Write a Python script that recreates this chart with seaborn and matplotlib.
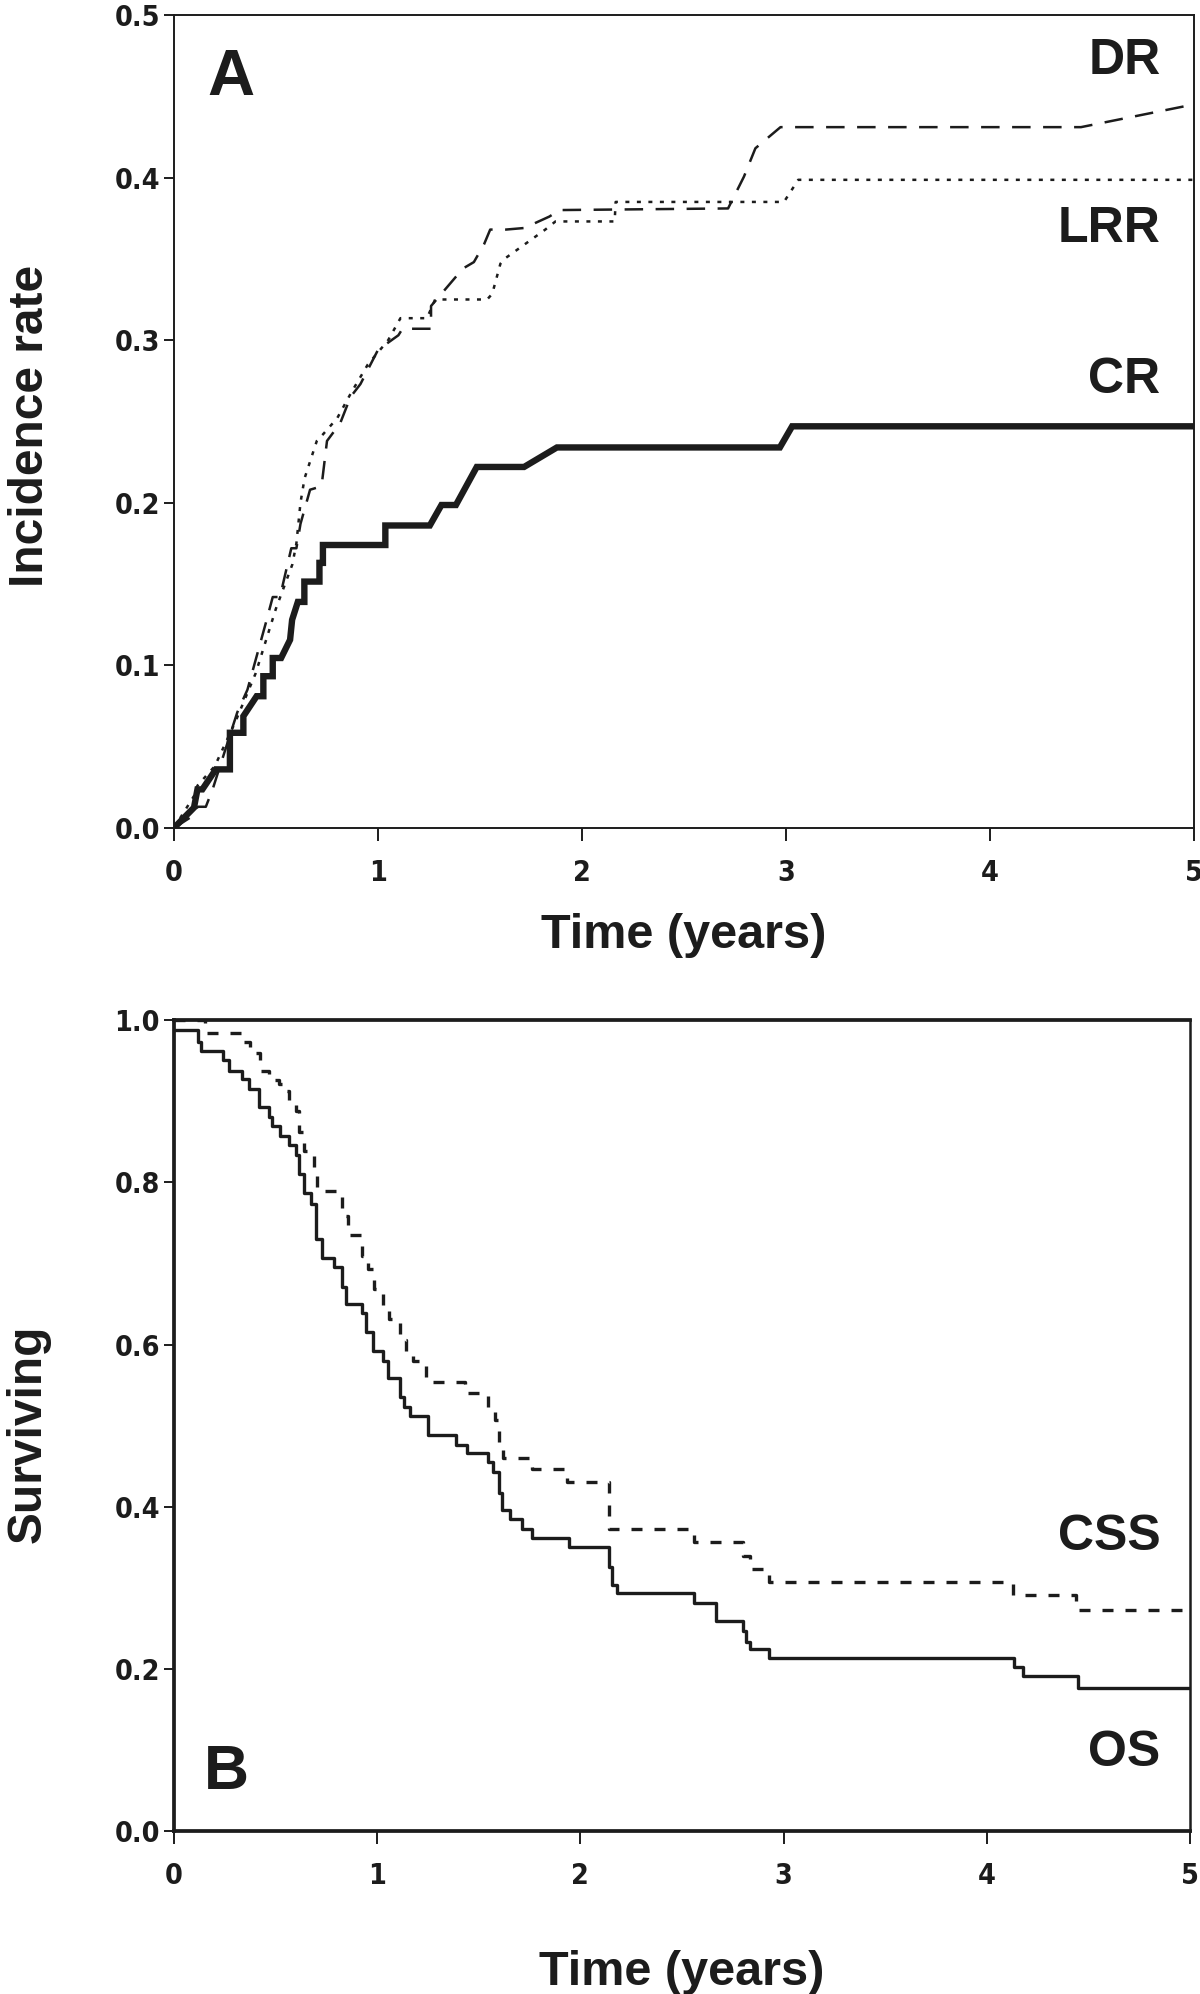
import numpy as np
import pandas as pd
import matplotlib
matplotlib.use('Agg')
import matplotlib.pyplot as plt
from matplotlib import font_manager
import seaborn as sns

# 패널 A: 누적 발생률 (CR, DR, LRR)
cr_t = [0, 0.098, 0.115, 0.139, 0.205, 0.274, 0.274, 0.34, 0.34, 0.405,
        0.438, 0.438, 0.484, 0.484, 0.525, 0.569, 0.579, 0.607, 0.639, 0.639,
        0.713, 0.713, 0.73, 0.73, 1.036, 1.036, 1.254, 1.311, 1.382, 1.484,
        1.716, 1.877, 2.97, 3.03, 5.0]
cr_v = [0, 0.0125, 0.0237, 0.0237, 0.036, 0.036, 0.0585, 0.0585, 0.0687, 0.081,
        0.081, 0.0933, 0.0933, 0.1045, 0.1045, 0.1157, 0.128, 0.139, 0.139, 0.1515,
        0.1515, 0.163, 0.163, 0.174, 0.174, 0.186, 0.186, 0.1986, 0.1986, 0.222,
        0.222, 0.234, 0.234, 0.247, 0.247]

dr_t = [0, 0.10, 0.115, 0.156, 0.19, 0.31, 0.36, 0.45, 0.484, 0.52,
        0.535, 0.575, 0.60, 0.62, 0.667, 0.72, 0.725, 0.75, 0.815, 0.865,
        0.914, 1.0, 1.1, 1.12, 1.26, 1.26, 1.416, 1.47, 1.52, 1.55,
        1.627, 1.72, 1.77, 1.84, 1.89, 2.716, 2.794, 2.85, 2.973, 4.446, 5.0]
dr_v = [0, 0.008, 0.013, 0.013, 0.024, 0.071, 0.085, 0.126, 0.142, 0.142,
        0.1505, 0.172, 0.172, 0.187, 0.208, 0.21, 0.212, 0.238, 0.249, 0.265,
        0.273, 0.294, 0.303, 0.307, 0.307, 0.321, 0.344, 0.348, 0.359, 0.368,
        0.368, 0.369, 0.372, 0.376, 0.380, 0.381, 0.4006, 0.418, 0.431, 0.431, 0.445]

lrr_t = [0, 0.10, 0.115, 0.20, 0.30, 0.40, 0.50, 0.58, 0.60, 0.62,
         0.64, 0.70, 0.73, 0.80, 0.87, 0.95, 1.05, 1.11, 1.24, 1.28,
         1.535, 1.56, 1.60, 1.62, 1.82, 1.87, 2.16, 2.165, 2.99, 3.06, 5.0]
lrr_v = [0, 0.02, 0.026, 0.038, 0.065, 0.095, 0.135, 0.162, 0.175, 0.20,
         0.215, 0.238, 0.242, 0.252, 0.268, 0.285, 0.30, 0.3135, 0.3135, 0.325,
         0.325, 0.3285, 0.347, 0.350, 0.368, 0.373, 0.373, 0.385, 0.385, 0.3986, 0.3986]

# 패널 B: 생존 곡선 (계단 시점, 계단 이후 값)
os_t = [0, 0.119, 0.135, 0.243, 0.27, 0.334, 0.367, 0.42, 0.466, 0.482,
        0.523, 0.565, 0.598, 0.614, 0.64, 0.672, 0.697, 0.73, 0.788, 0.829,
        0.845, 0.925, 0.945, 0.978, 1.027, 1.052, 1.11, 1.134, 1.16, 1.25,
        1.39, 1.44, 1.547, 1.572, 1.597, 1.613, 1.655, 1.712, 1.762, 1.944,
        2.14, 2.155, 2.18, 2.56, 2.667, 2.8, 2.817, 2.836, 2.93, 4.135,
        4.18, 4.448, 5.0]
os_v = [0.988, 0.973, 0.962, 0.951, 0.937, 0.928, 0.915, 0.893, 0.88, 0.869,
        0.857, 0.846, 0.834, 0.81, 0.787, 0.773, 0.730, 0.707, 0.695, 0.671,
        0.650, 0.639, 0.615, 0.592, 0.580, 0.559, 0.535, 0.523, 0.512, 0.488,
        0.476, 0.466, 0.455, 0.443, 0.417, 0.396, 0.385, 0.373, 0.362, 0.350,
        0.326, 0.303, 0.293, 0.281, 0.259, 0.247, 0.233, 0.225, 0.213, 0.202,
        0.191, 0.177, 0.177]

css_t = [0, 0.152, 0.334, 0.375, 0.424, 0.466, 0.515, 0.53, 0.565, 0.598,
         0.614, 0.64, 0.689, 0.705, 0.829, 0.854, 0.925, 0.953, 0.986, 1.027,
         1.06, 1.11, 1.143, 1.176, 1.242, 1.432, 1.547, 1.58, 1.597, 1.62,
         1.762, 1.935, 2.142, 2.558, 2.8, 2.836, 2.93, 4.13, 4.438, 5.0]
css_v = [1.0, 0.9845, 0.973, 0.96, 0.937, 0.926, 0.921, 0.912, 0.90, 0.888,
         0.862, 0.839, 0.815, 0.789, 0.759, 0.735, 0.709, 0.693, 0.669, 0.646,
         0.632, 0.606, 0.592, 0.580, 0.554, 0.540, 0.523, 0.507, 0.476, 0.460,
         0.446, 0.430, 0.373, 0.356, 0.339, 0.323, 0.307, 0.291, 0.273, 0.273]

xticks = [0, 1, 2, 3, 4, 5]
a_yticks = [0.0, 0.1, 0.2, 0.3, 0.4, 0.5]
b_yticks = [0.0, 0.2, 0.4, 0.6, 0.8, 1.0]

sns.set_style('ticks')
plt.rcParams['font.family'] = ['Liberation Sans', 'DejaVu Sans']
plt.rcParams['font.weight'] = 'bold'
ink = '#1c1c1c'

# 눈금 글꼴: 좁은 글꼴이 있으면 사용
installed = {f.name for f in font_manager.fontManager.ttflist}
if 'Liberation Sans Narrow' in installed:
    tick_font = dict(family='Liberation Sans Narrow')
else:
    tick_font = dict(family='DejaVu Sans', stretch='condensed')

fig = plt.figure(figsize=(12, 19.94), dpi=100)
axA = fig.add_axes([0.145, 0.5848, 0.85, 0.4077])
axB = fig.add_axes([0.145, 0.0817, 0.8467, 0.4067])

# 패널 A 곡선
sns.lineplot(x=cr_t, y=cr_v, ax=axA, sort=False, estimator=None, color=ink,
             linewidth=4.6, solid_joinstyle='miter')
sns.lineplot(x=dr_t, y=dr_v, ax=axA, sort=False, estimator=None, color=ink,
             linewidth=1.8, linestyle=(0, (7.4, 5.0)))
sns.lineplot(x=lrr_t, y=lrr_v, ax=axA, sort=False, estimator=None, color=ink,
             linewidth=1.8, linestyle=(0, (1.6, 3.0)))

# 패널 B 곡선
sns.lineplot(x=os_t, y=os_v, ax=axB, sort=False, estimator=None, color=ink,
             linewidth=2.4, drawstyle='steps-post')
sns.lineplot(x=css_t, y=css_v, ax=axB, sort=False, estimator=None, color=ink,
             linewidth=2.4, drawstyle='steps-post', linestyle=(0, (3.3, 3.6)))

for ax, yt in [(axA, a_yticks), (axB, b_yticks)]:
    ax.set_xlim(0, 5)
    ax.set_ylim(yt[0], yt[-1])
    ax.set_xticks(xticks)
    ax.set_xticklabels([str(t) for t in xticks])
    ax.set_yticks(yt)
    ax.set_yticklabels([f'{v:.1f}' for v in yt])
    ax.tick_params(direction='out', width=1.4, colors=ink, top=False, right=False)
    ax.tick_params(axis='x', length=9.5, pad=13)
    ax.tick_params(axis='y', length=7, pad=3)
    for lab in ax.get_xticklabels() + ax.get_yticklabels():
        lab.set_fontweight('bold')
        lab.set_fontsize(20.5)
        lab.set_fontfamily(tick_font['family'])
        if 'stretch' in tick_font:
            lab.set_fontstretch(tick_font['stretch'])

for s in axA.spines.values():
    s.set_linewidth(1.4)
    s.set_color(ink)
for name, s in axB.spines.items():
    s.set_linewidth(1.8 if name == 'right' else 2.7)
    s.set_color(ink)

# 축 제목
axA.set_ylabel('Incidence rate', fontsize=34.5, fontweight='bold', color=ink)
axA.set_xlabel('Time (years)', fontsize=35, fontweight='bold', color=ink)
axB.set_ylabel('Surviving', fontsize=34.5, fontweight='bold', color=ink)
axB.set_xlabel('Time (years)', fontsize=35, fontweight='bold', color=ink)
axA.xaxis.label.set_va('baseline')
axB.xaxis.label.set_va('baseline')
axA.xaxis.set_label_coords(0.5, -0.1476)
axB.xaxis.set_label_coords(0.5, -0.19)
axA.yaxis.label.set_va('center')
axB.yaxis.label.set_va('center')
axA.yaxis.set_label_coords(-0.141, 0.494)
axB.yaxis.set_label_coords(-0.144, 0.49)

# 패널 문자와 곡선 이름
axA.text(0.162, 0.4506, 'A', fontsize=47, fontweight='heavy', color=ink,
         ha='left', va='baseline')
axB.text(0.146, 0.0518, 'B', fontsize=45, fontweight='heavy', color=ink,
         ha='left', va='baseline')
for txt, y in [('DR', 0.4638), ('LRR', 0.3605), ('CR', 0.2674)]:
    axA.text(4.836, y, txt, fontsize=36, fontweight='bold', color=ink,
             ha='right', va='baseline')
for txt, y in [('CSS', 0.3466), ('OS', 0.0799)]:
    axB.text(4.855, y, txt, fontsize=36, fontweight='bold', color=ink,
             ha='right', va='baseline')

fig.savefig('out.png', dpi=100)
